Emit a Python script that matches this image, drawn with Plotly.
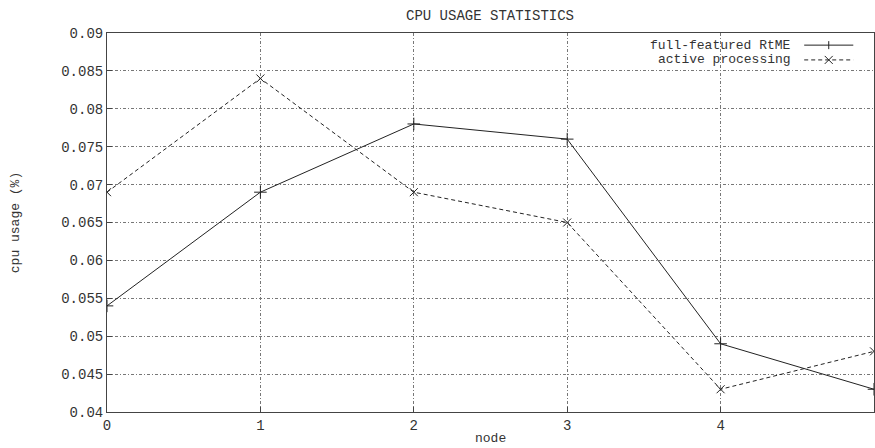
import plotly.graph_objects as go

nodes = [0, 1, 2, 3, 4, 5]
full_featured = [0.054, 0.069, 0.078, 0.076, 0.049, 0.043]
active_processing = [0.069, 0.084, 0.069, 0.065, 0.043, 0.048]

x_ticks = [0, 1, 2, 3, 4]
x_ticktext = ["0", "1", "2", "3", "4"]
y_ticks = [0.04, 0.045, 0.05, 0.055, 0.06, 0.065, 0.07, 0.075, 0.08, 0.085, 0.09]
y_ticktext = ["0.04", "0.045", "0.05", "0.055", "0.06", "0.065", "0.07", "0.075", "0.08", "0.085", "0.09"]

series_names = ["full-featured RtME", "active processing"]

FONT = "Liberation Mono, DejaVu Sans Mono, monospace"
INK = "#222222"

fig = go.Figure()
fig.add_trace(go.Scatter(
    x=nodes, y=full_featured, mode="lines+markers", name=series_names[0],
    line=dict(color=INK, width=1),
    marker=dict(symbol="cross-thin", size=9, line=dict(color=INK, width=1)),
    cliponaxis=True, showlegend=False))
fig.add_trace(go.Scatter(
    x=nodes, y=active_processing, mode="lines+markers", name=series_names[1],
    line=dict(color=INK, width=1, dash="4px,3px"),
    marker=dict(symbol="x-thin", size=8, line=dict(color=INK, width=1)),
    cliponaxis=True, showlegend=False))

axis_common = dict(
    showline=True, linecolor="#444444", linewidth=1, mirror=True,
    showgrid=True, gridcolor="#777777", gridwidth=1, griddash="3px,2px,1px,2px",
    zeroline=False, ticks="inside", ticklen=5, tickcolor="#444444",
    tickfont=dict(family=FONT, size=14, color="#333333"),
    automargin=False,
)

fig.update_xaxes(range=[0, 5], tickvals=x_ticks, ticktext=x_ticktext, **axis_common)
fig.update_yaxes(range=[0.04, 0.09], tickvals=y_ticks, ticktext=y_ticktext,
                 title=dict(text="cpu usage (%)", font=dict(family=FONT, size=13, color="#333333"), standoff=38),
                 **axis_common)

# x-axis title placed like the original
fig.add_annotation(xref="paper", yref="paper", x=0.5, y=-0.071, text="node", showarrow=False,
                   xanchor="center", yanchor="middle",
                   font=dict(family=FONT, size=13, color="#333333"))

# gnuplot-style key (text left of sample)
rows = [0.968, 0.929]
for i, (name, dash) in enumerate(zip(series_names, ["solid", "4px,3px"])):
    fig.add_annotation(xref="paper", yref="paper", x=0.894, y=rows[i], text=name,
                       showarrow=False, xanchor="right", yanchor="middle",
                       font=dict(family=FONT, size=13, color="#333333"))
    fig.add_shape(type="line", xref="paper", yref="paper", x0=0.909, x1=0.973,
                  y0=rows[i], y1=rows[i], line=dict(color=INK, width=1, dash=dash))
# key markers
fig.add_shape(type="line", xref="paper", yref="paper", xsizemode="pixel", ysizemode="pixel",
              xanchor=0.941, yanchor=rows[0], x0=0, x1=0, y0=-4, y1=4, line=dict(color=INK, width=1))
fig.add_shape(type="line", xref="paper", yref="paper", xsizemode="pixel", ysizemode="pixel",
              xanchor=0.941, yanchor=rows[1], x0=-4, x1=4, y0=-4, y1=4, line=dict(color=INK, width=1))
fig.add_shape(type="line", xref="paper", yref="paper", xsizemode="pixel", ysizemode="pixel",
              xanchor=0.941, yanchor=rows[1], x0=-4, x1=4, y0=4, y1=-4, line=dict(color=INK, width=1))

fig.update_layout(
    width=875, height=448,
    margin=dict(l=107, r=1, t=33, b=36),
    paper_bgcolor="white", plot_bgcolor="white",
    title=dict(text="CPU USAGE STATISTICS", x=0.56, xanchor="center", y=0.966, yanchor="middle",
               font=dict(family=FONT, size=14, color="#333333")),
    showlegend=False,
)

fig.write_html("out.html")
